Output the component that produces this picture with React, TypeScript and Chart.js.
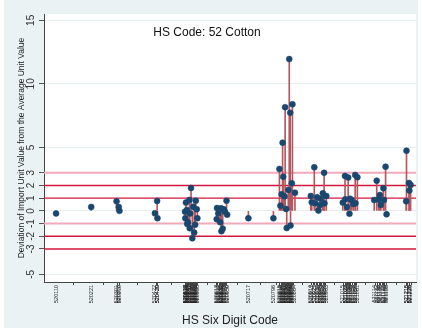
import React, { useEffect, useRef } from 'react';
import { Chart, registerables } from 'chart.js';

Chart.register(...registerables);

// HS six-digit codes (x) and deviations of import unit value (y)
const hsCodes = [
  520110,
  520221,
  520301, 520308, 520310,
  520422, 520429, 520430,
  520517, 520518, 520520, 520523, 520524, 520526, 520531, 520532, 520533, 520536,
  520540, 520543, 520546, 520549, 520551, 520554, 520556,
  520617, 520618, 520622, 520628, 520631, 520632, 520636, 520639, 520643, 520648, 520650,
  520717,
  520796,
  520815, 520818, 520822, 520825, 520827, 520831, 520833, 520836, 520838, 520843,
  520846, 520849, 520850, 520854, 520856, 520864,
  520914, 520917, 520925, 520927, 520934, 520938, 520943, 520945, 520952, 520956, 520957, 520963,
  521015, 521022, 521023, 521028, 521032, 521036, 521038, 521043, 521048, 521054, 521055, 521061,
  521114, 521122, 521128, 521132, 521135, 521143, 521145, 521150, 521153,
  521215, 521216, 521224, 521225, 521229,
];
const deviations = [
  -0.2,
  0.31,
  0.75, 0.3, 0.0,
  -0.19, 0.78, -0.58,
  -0.06, -0.58, 0.65, 0.07, -1.03, -0.9, 0.86, -1.37, -0.2, 1.8,
  -2.16, 0.33, -1.7, -1.1, 0.8, 0.13, -0.58,
  -0.65, 0.22, -0.2, -0.9, 0.2, -1.6, -1.4, 0.13, -0.06, 0.8, -0.3,
  -0.58,
  -0.58,
  3.3, 0.41, 1.3, 5.37, 2.69, 1.15, 8.16, 0.15, -1.35, 1.65,
  11.95, 7.73, -1.15, 2.17, 8.39, 1.43,
  1.17, 0.68, 3.43, 0.6, 1.07, 0.02, 0.46, 0.95, 1.39, 3.0, 0.6, 1.17,
  0.65, 2.75, 0.91, 0.3, 2.62, -0.22, 0.95, 0.86, 0.54, 2.83, 0.6, 2.65,
  0.86, 2.38, 0.9, 1.25, 0.46, 1.78, 0.86, 3.48, -0.27,
  0.75, 4.74, 2.2, 1.6, 2.04,
];
const yTickValues = [-5, -3, -2, -1, 0, 1, 2, 3, 5, 10, 15];
const gridValues = [-5, 0, 5, 10, 15];
const redLines = [2, 1, -2, -3];
const pinkLines = [3, -1];
const xRange = [520072, 521246];
const yRange = [-5.6, 15.5];
const plotTitle = 'HS Code: 52 Cotton';
const xTitle = 'HS Six Digit Code';
const yTitle = 'Deviation of Import Unit Value from the Average Unit Value';

const FONT = 'Arial, "Liberation Sans", Helvetica, sans-serif';

export default function App() {
  const ref = useRef<HTMLCanvasElement | null>(null);

  useEffect(() => {
    document.body.style.margin = '0';
    const canvas = ref.current;
    if (!canvas) return;

    const bgPlugin = {
      id: 'bgPlugin',
      beforeDraw(chart: any) {
        const { ctx, chartArea } = chart;
        ctx.save();
        ctx.fillStyle = '#ffffff';
        ctx.fillRect(0, 0, chart.width, chart.height);
        ctx.fillStyle = '#eaf2f3';
        ctx.fillRect(4, 0, 414, 328);
        ctx.fillStyle = '#ffffff';
        ctx.fillRect(chartArea.left, chartArea.top, chartArea.right - chartArea.left, chartArea.bottom - chartArea.top);
        ctx.restore();
      },
      afterDraw(chart: any) {
        const { ctx, chartArea } = chart;
        ctx.save();
        ctx.fillStyle = '#111111';
        ctx.font = `12px ${FONT}`;
        ctx.textAlign = 'center';
        ctx.textBaseline = 'middle';
        ctx.fillText(plotTitle, (chartArea.left + chartArea.right) / 2 - 23, chartArea.top + 19);
        ctx.restore();
      },
    };

    const points = hsCodes.map((x, i) => ({ x, y: deviations[i] }));
    const stems = hsCodes.map((x, i) => ({ x, y: [0, deviations[i]] }));
    const refLine = (v: number, color: string, width: number) => ({
      type: 'line' as const,
      data: [{ x: xRange[0], y: v }, { x: xRange[1], y: v }],
      borderColor: color,
      borderWidth: width,
      pointRadius: 0,
      showLine: true,
      order: 3,
    });

    const chart = new Chart(canvas, {
      type: 'scatter',
      data: {
        datasets: [
          {
            type: 'scatter',
            data: points,
            backgroundColor: '#1a476f',
            borderColor: '#1a476f',
            borderWidth: 0.5,
            pointRadius: 3,
            order: 0,
          } as any,
          {
            type: 'bar',
            data: stems,
            backgroundColor: '#b4585f',
            borderWidth: 0,
            barThickness: 1,
            order: 1,
          } as any,
          ...redLines.map((v) => refLine(v, '#d3173c', 1.4)),
          ...pinkLines.map((v) => refLine(v, '#f2a9b9', 2)),
        ],
      },
      options: {
        animation: false,
        responsive: false,
        layout: { padding: { left: 0, top: 14, right: 6, bottom: 0 } },
        plugins: {
          legend: { display: false },
          tooltip: { enabled: false },
        },
        scales: {
          x: {
            type: 'linear',
            min: xRange[0],
            max: xRange[1],
            offset: false,
            afterBuildTicks: (scale: any) => {
              const uniq = Array.from(new Set(hsCodes));
              scale.ticks = uniq.map((v) => ({ value: v }));
            },
            afterFit: (scale: any) => {
              scale.height = 47;
            },
            ticks: {
              autoSkip: false,
              minRotation: 90,
              maxRotation: 90,
              padding: 0,
              font: { size: 5.5, family: FONT },
              color: '#222222',
              callback: (v: any) => String(v),
            },
            grid: {
              drawOnChartArea: false,
              color: 'rgba(0,0,0,0)',
              tickColor: '#444444',
              tickLength: 3,
            },
            border: { color: '#444444', width: 1 },
            title: {
              display: true,
              text: xTitle,
              color: '#222222',
              font: { size: 12, family: FONT },
              padding: { top: 0, bottom: 1 },
            },
          },
          y: {
            type: 'linear',
            min: yRange[0],
            max: yRange[1],
            afterBuildTicks: (scale: any) => {
              scale.ticks = yTickValues.map((v) => ({ value: v }));
            },
            afterFit: (scale: any) => {
              scale.width = 44;
            },
            ticks: {
              autoSkip: false,
              minRotation: 90,
              maxRotation: 90,
              crossAlign: 'center',
              padding: 2,
              font: { size: 10, family: FONT },
              color: '#333333',
              callback: (v: any) => String(v),
            },
            grid: {
              color: (ctx: any) =>
                ctx.tick && gridValues.includes(ctx.tick.value) ? '#e6eef0' : 'rgba(0,0,0,0)',
              tickColor: '#555555',
              tickLength: 5,
              lineWidth: 1,
            },
            border: { color: '#444444', width: 1 },
            title: {
              display: true,
              text: yTitle,
              color: '#222222',
              font: { size: 8.5, family: FONT },
              padding: { top: 17, bottom: 0 },
            },
          },
        },
      } as any,
      plugins: [bgPlugin],
    });

    return () => chart.destroy();
  }, []);

  return (
    <div style={{ width: 422, height: 329 }}>
      <canvas ref={ref} width={422} height={329} />
    </div>
  );
}
